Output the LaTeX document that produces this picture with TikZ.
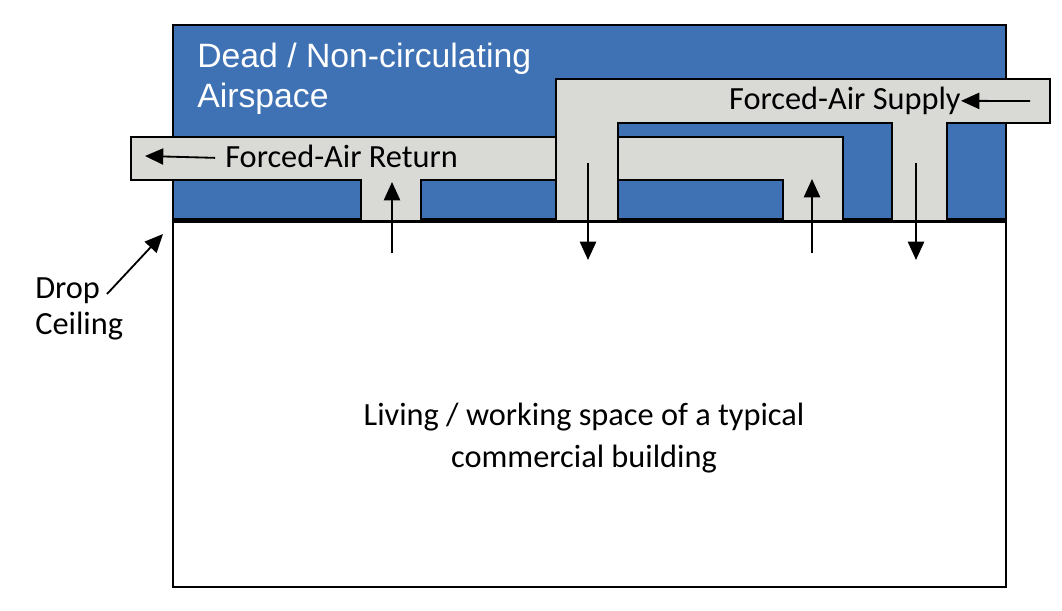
\documentclass[tikz,border=0pt]{standalone}
\usepackage{fontspec}
\setmainfont{Carlito}
\newfontfamily\arialfont{Liberation Sans}
\usetikzlibrary{arrows.meta}
\definecolor{airblue}{RGB}{63,114,180}
\definecolor{ductgray}{RGB}{217,217,214}

\begin{document}
\begin{tikzpicture}[x=0.025cm,y=-0.025cm,
    wall/.style={draw=black,line width=1.1pt},
    duct/.style={fill=ductgray,draw=black,line width=1.1pt},
    flow/.style={-{Triangle[length=13pt,width=11.5pt]},line width=1.3pt},
    lbl/.style={inner sep=0pt,font=\fontsize{23}{29.8}\selectfont}]
  \useasboundingbox (0,0) rectangle (1062,610);
  \fill[white] (0,0) rectangle (1062,610);
  \draw[wall,fill=airblue] (173,25) rectangle (1006,220);
  \draw[wall] (173,220) rectangle (1006,587);
  \draw[line width=3pt] (173,220.5) -- (1006,220.5);
  % return duct
  \draw[duct] (131,137) -| (843,221) -- (783,221) |- (421,180)
    -- (421,221) -- (361,221) |- (131,180) -- cycle;
  % supply duct
  \draw[duct] (556,221) |- (1050,79) |- (947,123) -- (947,221)
    -- (892,221) |- (618,123) -- (618,221) -- cycle;
  \node[anchor=north west,inner sep=0pt,align=left,text=white,
    font=\arialfont\fontsize{24}{28.4}\selectfont] (dead) at (197,43)
    {Dead / Non-circulating\\Airspace};
  \node[lbl,anchor=base west] (ret) at (225,167) {Forced-Air Return};
  \node[lbl,anchor=base east] (sup) at (961,110) {Forced-Air Supply};
  \node[lbl,anchor=north,align=center] (room) at (584,403)
    {Living / working space of a typical\\commercial building};
  \node[lbl,anchor=north west,align=left,
    font=\fontsize{23}{26.2}\selectfont] (ceil) at (35,277) {Drop\\Ceiling};
  \coordinate (retout) at (145,156);
  \coordinate (supin) at (1030,101);
  \coordinate (ceiltip) at (163,234);
  \coordinate (ceiltail) at (107,294);
  \draw[flow] ([xshift=-7pt,yshift=6.5pt]ret.base west) -- (retout);
  \draw[flow] (supin) -- ([yshift=6.5pt]sup.base east);
  \draw[flow] (ceiltail) -- (ceiltip);
  \coordinate (upa1) at (392,253); \coordinate (upa2) at (392,182);
  \coordinate (upb1) at (812,253); \coordinate (upb2) at (812,179);
  \coordinate (dna1) at (588,163); \coordinate (dna2) at (588,260);
  \coordinate (dnb1) at (916,163); \coordinate (dnb2) at (916,260);
  \draw[flow] (upa1) -- (upa2);
  \draw[flow] (upb1) -- (upb2);
  \draw[flow] (dna1) -- (dna2);
  \draw[flow] (dnb1) -- (dnb2);
\end{tikzpicture}
\end{document}
